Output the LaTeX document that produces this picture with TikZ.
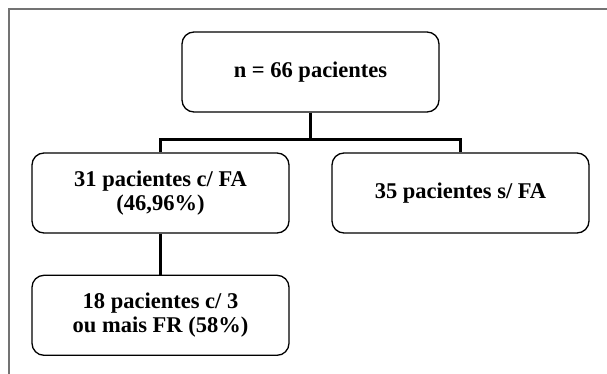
\documentclass[tikz,border=0pt]{standalone}
\usepackage{fontspec}
\setmainfont{Liberation Serif}
\usetikzlibrary{positioning}

\begin{document}
\begin{tikzpicture}[
	x=1pt, y=-1pt,
	caixa/.style={rectangle, draw=black, line width=1.3pt, rounded corners=12pt,
		minimum width=257pt, minimum height=80pt, inner sep=0pt, align=center,
		font=\fontsize{22.5}{24.5}\selectfont\bfseries},
	elo/.style={line width=3.5pt, black},
	moldura/.style={draw=black!55, line width=1.2pt}
	]
	\useasboundingbox (0,0) rectangle (607,374);
	
	% page frame
	\draw[moldura] (607,9) -- (9,9) -- (9,374);
	
	% Row 1: total
	\node[caixa] (total) at (310.5,72) {n = 66 pacientes};
	
	% Row 2: with / without FA
	\node[caixa] (comFA) at (160.5,193) {31 pacientes c/ FA \\ (46,96\%)};
	\node[caixa] (semFA) at (460.5,193) {35 pacientes s/ FA};
	
	% Row 3: risk factors
	\node[caixa] (fr) [below=41pt of comFA] {18 pacientes c/ 3 \\ ou mais FR (58\%)};
	
	% Connectors
	\draw[elo] (total.south) -- ++(0,27) -| (comFA.north);
	\draw[elo] (total.south) -- ++(0,27) -| (semFA.north);
	\draw[elo] (comFA) -- (fr);
	
\end{tikzpicture}
\end{document}
